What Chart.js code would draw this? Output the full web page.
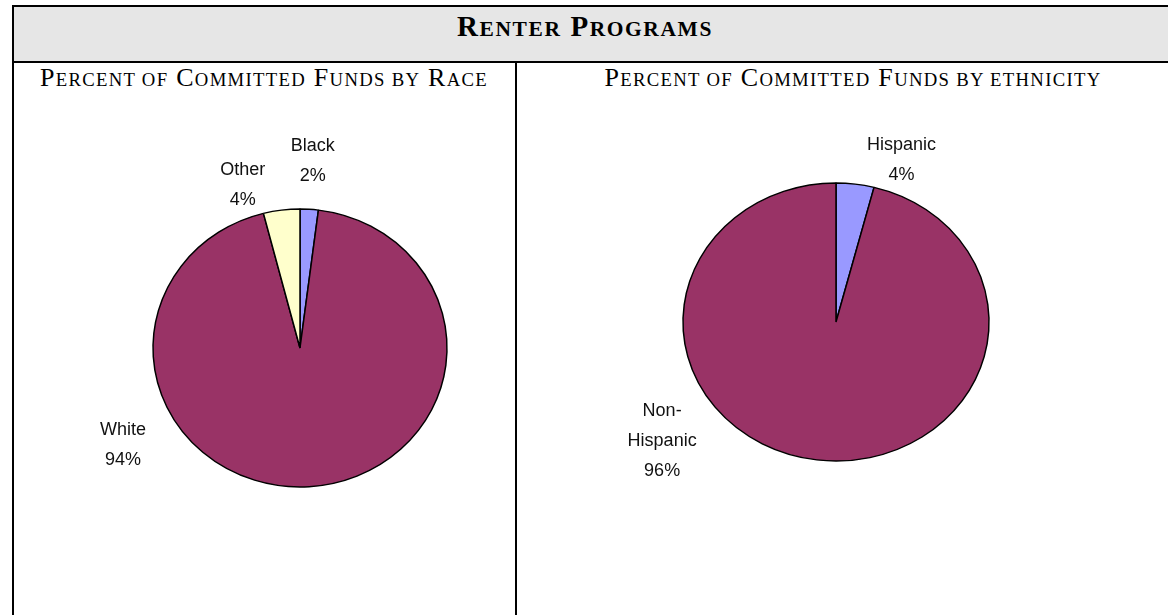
<!DOCTYPE html>
<html>
<head>
<meta charset="utf-8">
<script src="https://cdn.jsdelivr.net/npm/chart.js@4"></script>
<style>
  html, body { margin: 0; padding: 0; background: #fff; overflow: hidden; }
  body { width: 1168px; height: 615px; position: relative; font-family: "Liberation Serif", "Times New Roman", serif; }
  .line { position: absolute; background: #000; }
  #header { position: absolute; left: 14px; top: 7px; width: 1180px; height: 54px; background: #e6e6e6; }
  .title { position: absolute; text-align: center; white-space: nowrap; color: #000; line-height: 1; }
  .sc { text-transform: uppercase; }
  #mainTitle { left: 0px; width: 1170px; top: 12px; font-size: 29px; font-weight: bold; letter-spacing: 1.6px; }
  #mainTitle .sc { font-size: 0.74em; }
  #raceTitle { left: 12px; width: 504px; top: 65px; font-size: 26px; letter-spacing: 1.3px; }
  #ethTitle { left: 516px; width: 674px; top: 65px; font-size: 26px; letter-spacing: 1.3px; }
  #raceTitle .sc, #ethTitle .sc { font-size: 0.72em; }
  canvas { position: absolute; }
</style>
</head>
<body>
<div id="header"></div>
<div class="line" style="left:12px; top:5px; width:1180px; height:2px;"></div>
<div class="line" style="left:12px; top:61px; width:1180px; height:2px;"></div>
<div class="line" style="left:12px; top:5px; width:2px; height:620px;"></div>
<div class="line" style="left:515px; top:61px; width:2px; height:560px;"></div>
<div class="title" id="mainTitle">R<span class="sc">enter</span> P<span class="sc">rograms</span></div>
<div class="title" id="raceTitle">P<span class="sc">ercent of</span> C<span class="sc">ommitted</span> F<span class="sc">unds by</span> R<span class="sc">ace</span></div>
<div class="title" id="ethTitle">P<span class="sc">ercent of</span> C<span class="sc">ommitted</span> F<span class="sc">unds by ethnicity</span></div>
<canvas id="chart-race" width="501" height="552" style="left:14px; top:63px;"></canvas>
<canvas id="chart-eth" width="651" height="552" style="left:517px; top:63px;"></canvas>
<script>
// data
const raceLabels = ['Black', 'White', 'Other'];
const raceValues = [2, 94, 4];
const ethLabels = ['Hispanic', 'Non-Hispanic'];
const ethValues = [4, 96];

const CORES = {
    azul: '#9999ff',
    vinho: '#993366',
    creme: '#ffffcc'
};

// where Excel put each data label: angle (deg, clockwise from top) and distance as a fraction of radius
const raceLabelPos = [[3.7, 1.345], [240, 1.39], [-18.4, 1.232]];
const ethLabelPos = [[20.2, 1.238], [233, 1.423]];

// squash the pie vertically so it becomes an ellipse
const elipse = {
    id: 'elipse',
    beforeDatasetsDraw(chart, args, opts) {
        const arc = chart.getDatasetMeta(0).data[0];
        const ctx = chart.ctx;
        ctx.save();
        ctx.translate(arc.x, arc.y);
        ctx.scale(1, opts.ry / arc.outerRadius);
        ctx.translate(-arc.x, -arc.y);
    },
    afterDatasetsDraw(chart) {
        chart.ctx.restore();
    }
};

const rotulos = {
    id: 'rotulos',
    afterDraw(chart, args, opts) {
        const ctx = chart.ctx;
        const meta = chart.getDatasetMeta(0);
        const ds = chart.data.datasets[0];
        const total = ds.data.reduce((a, b) => a + b, 0);
        ctx.save();
        ctx.font = '18px "Liberation Sans", Arial, sans-serif';
        ctx.fillStyle = '#111';
        ctx.textAlign = 'center';
        ctx.textBaseline = 'middle';
        meta.data.forEach((arc, i) => {
            const [ang, f] = opts.pos[i];
            const a = ang * Math.PI / 180;
            const x = arc.x + f * arc.outerRadius * Math.sin(a);
            const y = arc.y - f * opts.ry * Math.cos(a);
            const nome = chart.data.labels[i];
            const linhas = nome.includes('-') ? nome.replace('-', '-\n').split('\n') : [nome];
            linhas.push(Math.round(ds.data[i] / total * 100) + '%');
            const lh = 30;
            const y0 = y - (linhas.length - 1) * lh / 2;
            linhas.forEach((t, k) => ctx.fillText(t, x, y0 + k * lh));
        });
        ctx.restore();
    }
};

function renderPie(id, labels, valores, cores, raio, ry, padding, pos) {
    const ctx = document.getElementById(id);
    if (Chart.getChart(ctx)) Chart.getChart(ctx).destroy();
    new Chart(ctx, {
        type: 'pie',
        data: { labels: labels, datasets: [{ data: valores, backgroundColor: cores, borderColor: '#000', borderWidth: 1.5 }] },
        options: {
            responsive: false,
            animation: false,
            devicePixelRatio: 1,
            radius: raio,
            layout: { padding: padding },
            plugins: {
                legend: { display: false },
                tooltip: { enabled: false },
                elipse: { ry: ry },
                rotulos: { ry: ry, pos: pos }
            }
        },
        plugins: [elipse, rotulos]
    });
}

renderPie('chart-race', raceLabels, raceValues, [CORES.azul, CORES.vinho, CORES.creme], 147, 139,
    { left: 71, right: 0, top: 18, bottom: 0 }, raceLabelPos);
renderPie('chart-eth', ethLabels, ethValues, [CORES.azul, CORES.vinho], 153, 139,
    { left: 0, right: 13, top: 0, bottom: 34 }, ethLabelPos);
</script>
</body>
</html>
